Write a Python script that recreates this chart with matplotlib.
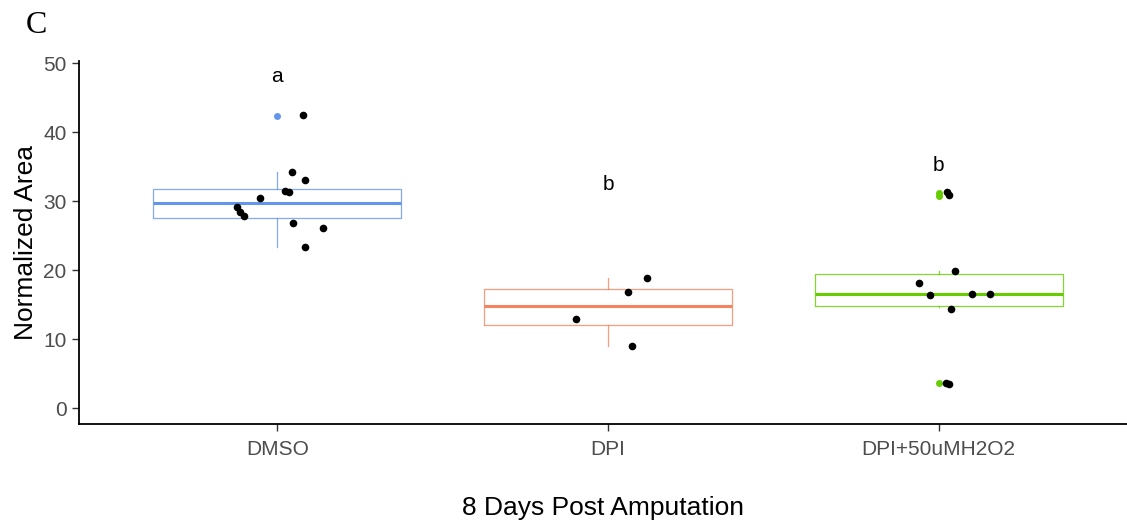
import numpy as np
import matplotlib
matplotlib.use("Agg")
from matplotlib import pyplot as plt

plt.rcParams['font.family'] = ['Liberation Sans', 'DejaVu Sans']

groups = ['DMSO', 'DPI', 'DPI+50uMH2O2']
colors = ['#6495ED', '#F4845F', '#66CD00']

# box statistics
q1 = [27.5, 12.0, 14.8]
med = [29.7, 14.8, 16.5]
q3 = [31.7, 17.25, 19.45]
whislo = [23.4, 9.0, 14.6]
whishi = [34.25, 18.8, 19.9]
outliers = [[42.36], [], [31.2, 30.8, 3.58]]

# jittered raw points (offset from group centre, value)
dmso_dx = [0.079, 0.043, 0.085, 0.024, 0.036, -0.053, -0.122, -0.112, -0.102, 0.048, 0.139, 0.085]
dmso_y = [42.4, 34.25, 33.0, 31.45, 31.3, 30.4, 29.1, 28.4, 27.9, 26.8, 26.1, 23.4]
dpi_dx = [0.118, 0.061, -0.096, 0.074]
dpi_y = [18.9, 16.8, 12.9, 9.0]
h2o2_dx = [0.027, 0.031, 0.050, -0.060, -0.027, 0.102, 0.155, 0.038, 0.023, 0.031]
h2o2_y = [31.3, 30.9, 19.9, 18.16, 16.4, 16.6, 16.5, 14.35, 3.58, 3.5]

letters = ['a', 'b', 'b']
letter_y = [48.0, 32.4, 35.2]

fig = plt.figure(figsize=(11.27, 5.23), dpi=100)
ax = fig.add_axes([0.0701, 0.1887, 0.9299, 0.6947])

pos = np.arange(1, len(groups) + 1)
for i in range(len(groups)):
    st = [dict(med=med[i], q1=q1[i], q3=q3[i], whislo=whislo[i], whishi=whishi[i], fliers=[])]
    ax.bxp(st, positions=[pos[i]], widths=0.75, showcaps=False, showfliers=False,
           boxprops=dict(color=colors[i], linewidth=0.9, alpha=0.8),
           whiskerprops=dict(color=colors[i], linewidth=0.9, alpha=0.8),
           medianprops=dict(color=colors[i], linewidth=2.2))
    if outliers[i]:
        ax.plot([pos[i]] * len(outliers[i]), outliers[i], 'o', color=colors[i],
                markersize=5, markeredgewidth=0, zorder=3)
    ax.text(pos[i], letter_y[i], letters[i], ha='center', va='center', fontsize=15)

for k, (dx, y) in enumerate([(dmso_dx, dmso_y), (dpi_dx, dpi_y), (h2o2_dx, h2o2_y)]):
    ax.plot(pos[k] + np.array(dx), y, 'o', color='black', markersize=5.5,
            markeredgewidth=0, zorder=4)

ax.set_xlim(0.4, 3.57)
ax.set_ylim(-2.35, 50.3)
ax.set_xticks(pos)
ax.set_xticklabels(groups)
ax.set_yticks([0, 10, 20, 30, 40, 50])
ax.tick_params(labelsize=15, colors='#333333', labelcolor='#4D4D4D', length=5, width=1)
ax.tick_params(axis='x', pad=6)
ax.tick_params(axis='y', pad=4)
for s in ['top', 'right']:
    ax.spines[s].set_visible(False)
for s in ['left', 'bottom']:
    ax.spines[s].set_linewidth(1.3)

ax.set_xlabel('8 Days Post Amputation', fontsize=19, labelpad=27)
ax.set_ylabel('Normalized Area', fontsize=19, labelpad=4)

fig.text(36 / 1127, 1 - 25.5 / 523, 'C', family='Liberation Serif', fontsize=23,
         ha='center', va='center')

fig.savefig('out.png', dpi=100)
